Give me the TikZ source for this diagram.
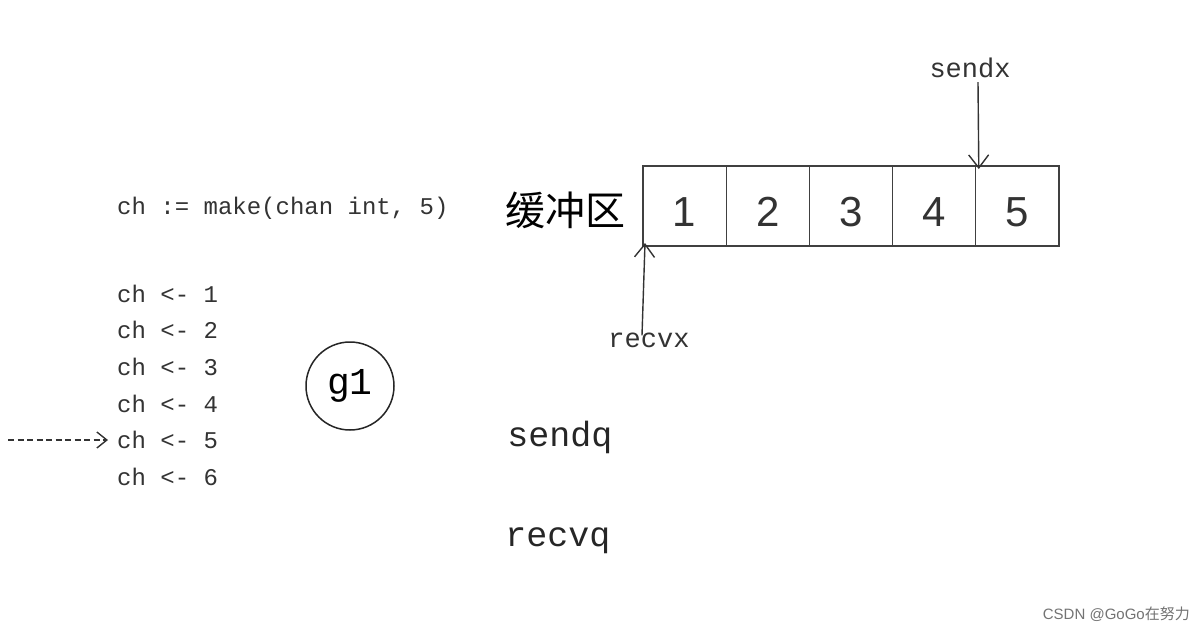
\documentclass[tikz,border=0pt]{standalone}
\usepackage{fontspec}
\setmainfont{Liberation Sans}
\newfontfamily\monof{Liberation Mono}
\newfontfamily\cjkf{Noto Sans CJK SC}
\usetikzlibrary{arrows.meta}
\tikzset{
  code/.style={font=\monof\fontsize{24}{24}\selectfont, text=black!80, inner sep=0pt, anchor=west},
  bigcode/.style={font=\monof\fontsize{35}{35}\selectfont, text=black!85, inner sep=0pt},
  ptr/.style={font=\monof\fontsize{27}{27}\selectfont, text=black!80, inner sep=0pt},
  cell/.style={draw=black!75, line width=1.3pt, outer sep=0pt, minimum width=83.2pt, minimum height=80pt, inner sep=0pt, text height=40pt, text depth=0pt, font=\fontsize{42}{42}\selectfont, text=black!80},
  thinarrow/.style={draw=black!80, line width=1.4pt, -{Straight Barb[length=13pt,width=20pt,line width=1.4pt]}},
}
\begin{document}
\begin{tikzpicture}[x=1pt,y=-1pt]
\useasboundingbox (0,0) rectangle (1200,632);
\fill[white] (0,0) rectangle (1200,632);

\node[code] (make) at (117,208) {ch := make(chan int, 5)};

\node[code] (c1) at (117,294) {ch <- 1};
\node[code] (c2) at (117,330) {ch <- 2};
\node[code] (c3) at (117,367) {ch <- 3};
\node[code] (c4) at (117,404) {ch <- 4};
\node[code] (c5) at (117,440) {ch <- 5};
\node[code] (c6) at (117,477) {ch <- 6};
\coordinate (dstart) at (8,440);
\draw[draw=black!80, line width=1.4pt, dash pattern=on 6pt off 3.5pt, -{Straight Barb[length=10pt,width=16pt,line width=1.4pt]}] (dstart) -- ([xshift=-9pt]c5.west);

\node[draw=black!85, line width=1.5pt, circle, minimum size=88pt, inner sep=0pt, font=\monof\fontsize{38}{38}\selectfont] (g1) at (350,386) {g1};

\node[font=\cjkf\fontsize{40}{40}\selectfont, inner sep=0pt, anchor=east] (buf) at (626,210) {缓冲区};

\node[cell, anchor=north west] (b1) at (643,166) {1};
\node[cell, anchor=west] (b2) at (b1.east) {2};
\node[cell, anchor=west] (b3) at (b2.east) {3};
\node[cell, anchor=west] (b4) at (b3.east) {4};
\node[cell, anchor=west] (b5) at (b4.east) {5};

\node[ptr] (sendx) at (970,68) {sendx};
\coordinate (sendxtip) at (b5.north west);
\draw[thinarrow] ([xshift=8pt,yshift=-4pt]sendx.south) -- ([xshift=3pt,yshift=-3pt]sendxtip);

\node[ptr] (recvx) at (649,340) {recvx};
\draw[thinarrow] ([xshift=-7pt,yshift=-3pt]recvx.north) -- ([xshift=2pt,yshift=3pt]b1.south west);

\node[bigcode] (sendq) at (560,437) {sendq};
\node[bigcode] (recvq) at (558,541) {recvq};

\node[font=\fontsize{15}{15}\selectfont, text=black!55, inner sep=0pt, anchor=east] (wm) at (1190,614) {CSDN @GoGo\cjkf 在努力};
\end{tikzpicture}
\end{document}
